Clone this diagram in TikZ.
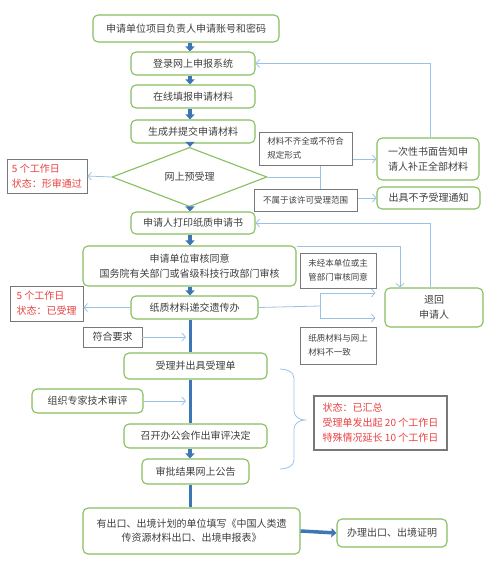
\documentclass[tikz,border=0pt]{standalone}
\usepackage{fontspec}
\setmainfont{Noto Sans CJK SC}
\usetikzlibrary{shapes.geometric,arrows.meta}
\definecolor{boxgreen}{RGB}{135,190,95}
\definecolor{linkblue}{RGB}{155,194,230}
\definecolor{spineblue}{RGB}{62,117,181}
\definecolor{framegray}{RGB}{120,120,120}
\definecolor{notered}{RGB}{235,65,65}
\definecolor{inktext}{RGB}{64,64,64}
\tikzset{
  greenbox/.style={draw=boxgreen, line width=1.1pt, rounded corners=5pt, fill=white, text=inktext, font=\fontsize{10}{15}\selectfont, align=center, inner sep=0pt},
  graybox/.style={draw=framegray, line width=0.9pt, fill=white, text=inktext, font=\fontsize{8.5}{14}\selectfont, align=left, inner sep=0pt},
  redbox/.style={graybox, text=notered, font=\fontsize{10}{15}\selectfont},
  thinarrow/.style={draw=linkblue, line width=0.8pt, -{Straight Barb[length=3.5pt,width=8pt]}},
  thinline/.style={draw=linkblue, line width=0.8pt},
  fatarrow/.style={draw=spineblue, line width=3.5pt, -{Triangle[length=5pt,width=9pt]}},
  spineline/.style={draw=spineblue, line width=3pt},
}
\begin{document}
\begin{tikzpicture}[x=1pt, y=-1pt]
        \useasboundingbox (0, 0) rectangle (494, 570);
        \coordinate (spine) at (190, 0);
        \node[greenbox, minimum width=186pt, minimum height=27pt] (apply) at (186, 28.5) {申请单位项目负责人申请账号和密码};
        \node[greenbox, minimum width=124pt, minimum height=23pt] (login) at (193, 63.5) {登录网上申报系统};
        \node[greenbox, minimum width=124pt, minimum height=23pt] (fill) at (193, 96.5) {在线填报申请材料};
        \node[greenbox, minimum width=124pt, minimum height=23pt] (submit) at (193, 131.5) {生成并提交申请材料};
        \node[diamond, draw=boxgreen, line width=1.1pt, fill=white, minimum width=155pt, minimum height=47pt, inner sep=0pt, text=inktext, font=\fontsize{10}{15}\selectfont] (pre) at (189.5, 177) {网上预受理};
        \node[redbox, minimum width=80pt, minimum height=34pt] (state1) at (47, 176) {5 个工作日\\状态：形审通过};
        \node[greenbox, minimum width=102pt, minimum height=42pt] (notify) at (428, 159) {一次性书面告知申\\请人补正全部材料};
        \node[greenbox, minimum width=103pt, minimum height=22pt] (refuse) at (428.5, 198) {出具不予受理通知};
        \node[greenbox, minimum width=124pt, minimum height=22pt] (print) at (193, 223) {申请人打印纸质申请书};
        \node[greenbox, minimum width=213pt, minimum height=40pt] (unitok) at (189.5, 266) {申请单位审核同意\\国务院有关部门或省级科技行政部门审核};
        \node[greenbox, minimum width=127pt, minimum height=23pt] (paper) at (194.5, 307.5) {纸质材料递交遗传办};
        \node[redbox, minimum width=73pt, minimum height=35pt] (state2) at (46.5, 303.5) {5 个工作日\\状态：已受理};
        \node[greenbox, minimum width=98pt, minimum height=39pt] (back) at (434, 307.5) {退回\\申请人};
        \node[greenbox, minimum width=143pt, minimum height=26pt] (accept) at (195.5, 366) {受理并出具受理单};
        \node[greenbox, minimum width=111pt, minimum height=24pt] (expert) at (87.5, 401) {组织专家技术审评};
        \node[greenbox, minimum width=143pt, minimum height=24pt] (meeting) at (195.5, 436) {召开办公会作出审评决定};
        \node[greenbox, minimum width=107pt, minimum height=25pt] (publish) at (195.5, 471.5) {审批结果网上公告};
        \node[greenbox, minimum width=217pt, minimum height=46pt, font=\fontsize{10}{14}\selectfont] (export) at (191.5, 531) {有出口、出境计划的单位填写《中国人类遗\\传资源材料出口、出境申报表》};
        \node[greenbox, minimum width=110pt, minimum height=28pt] (cert) at (392, 533) {办理出口、出境证明};
        \node[redbox, line width=1.4pt, minimum width=133pt, minimum height=54pt] (state3) at (380.5, 423) {状态：已汇总\\受理单发出起 20 个工作日\\特殊情况延长 10 个工作日};
        \coordinate (fork1) at (320, 177);
        \coordinate (fork2) at (320, 306);
        \draw[fatarrow] (apply.south -| spine) -- (login.north -| spine);
        \draw[fatarrow] (login.south -| spine) -- (fill.north -| spine);
        \draw[fatarrow] (fill.south -| spine) -- (submit.north -| spine);
        \draw[fatarrow] (submit.south -| spine) -- (pre.north -| spine);
        \draw[fatarrow] (pre.south -| spine) -- (print.north -| spine);
        \draw[fatarrow] (print.south -| spine) -- (unitok.north -| spine);
        \draw[fatarrow] (unitok.south -| spine) -- (paper.north -| spine);
        \draw[spineline] (paper.south -| spine) -- (accept.north -| spine);
        \draw[spineline] (accept.south -| spine) -- (meeting.north -| spine);
        \draw[fatarrow] (meeting.south -| spine) -- (publish.north -| spine);
        \draw[spineline] (publish.south -| spine) -- (export.north -| spine);
        \draw[fatarrow] (export.east) -- (cert.west);
        \draw[thinarrow] (pre.west) -- (state1.east);
        \draw[thinline] (pre.east) -- (fork1);
        \draw[thinarrow] (fork1) |- (notify.west);
        \draw[thinarrow] (fork1) |- (refuse.west);
        \draw[thinarrow] ([xshift=2pt]notify.north) |- (login.east);
        \draw[thinarrow] ([xshift=-4pt]back.north) |- (print.east);
        \draw[thinarrow] ([yshift=-1pt]unitok.north east) -| ([xshift=-34pt]back.north);
        \draw[thinarrow] (paper.west) -- (paper.west -| state2.east);
        \draw[thinline] (paper.east) -- (fork2);
        \draw[thinarrow] (fork2) |- ([xshift=-9pt, yshift=14.5pt]back.west);
        \draw[thinarrow] (fork2) |- ([xshift=-9pt, yshift=-10.5pt]back.west);
        \draw[thinarrow, shorten >=4pt] (expert.east) -- (expert.east -| spine);
        \draw[thinline] (280, 369) to[out=0, in=90] (294, 378) -- (294, 411) to[out=-90, in=180] (305, 420) to[out=180, in=90] (294, 429) -- (294, 460) to[out=-90, in=0] (280, 469);
        \node[graybox, minimum width=93pt, minimum height=33pt] (lack) at (305.5, 148.5) {材料不齐全或不符合\\规定形式};
        \node[graybox, minimum width=103pt, minimum height=22pt] (outscope) at (305.5, 200) {不属于该许可受理范围};
        \node[graybox, minimum width=76pt, minimum height=35pt] (unapproved) at (338, 270.5) {未经本单位或主\\管部门审核同意};
        \node[graybox, minimum width=76pt, minimum height=37pt] (mismatch) at (338, 345.5) {纸质材料与网上\\材料不一致};
        \node[graybox, font=\fontsize{10}{15}\selectfont, minimum width=59pt, minimum height=20pt] (meet) at (112.5, 337) {符合要求};
        \draw[thinarrow, shorten >=4pt] (meet.east) -- (meet.east -| spine);
    \end{tikzpicture}
\end{document}
